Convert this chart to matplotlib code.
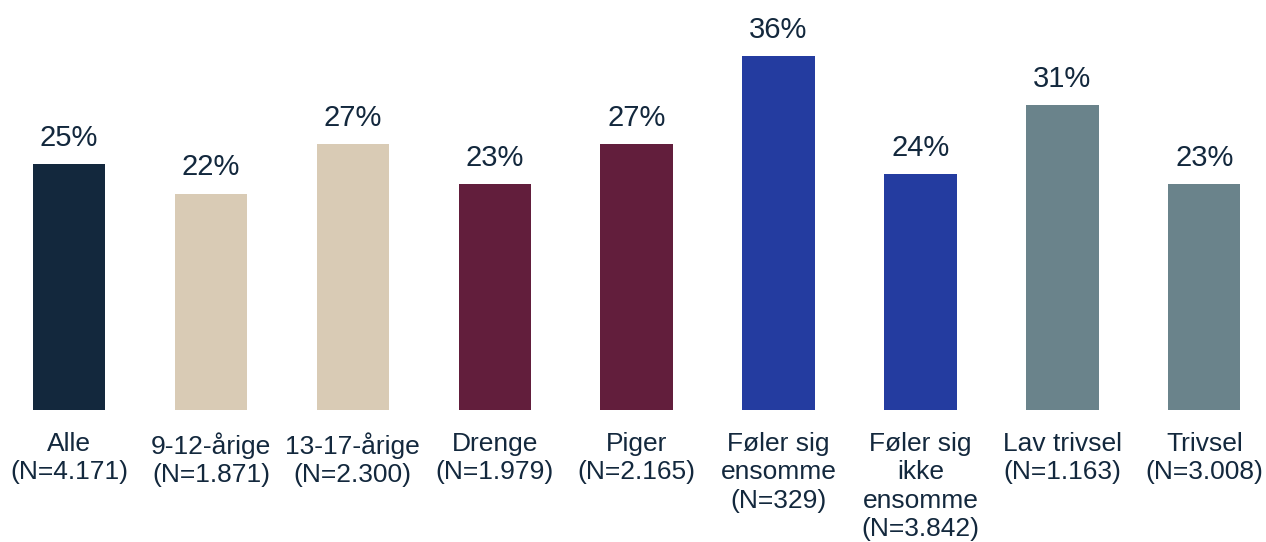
import numpy as np
import matplotlib.pyplot as plt

plt.rcParams['font.family'] = ['Liberation Sans', 'DejaVu Sans']

# Data

categories = ['Alle\n(N=4.171)', '9-12-årige\n(N=1.871)', '13-17-årige\n(N=2.300)',
              'Drenge\n(N=1.979)', 'Piger\n(N=2.165)', 'Føler sig\nensomme\n(N=329)',
              'Føler sig\nikke\nensomme\n(N=3.842)', 'Lav trivsel\n(N=1.163)',
              'Trivsel\n(N=3.008)']
values = [25, 22, 27, 23, 27, 36, 24, 31, 23]
colors = ['#13283d', '#d9cbb5', '#d9cbb5', '#621e3c', '#621e3c',
          '#243ca0', '#243ca0', '#6a838b', '#6a838b']
text_color = '#13283d'

fig = plt.figure(figsize=(12.66, 5.42), dpi=100)
ax = fig.add_axes([0, 132 / 542, 1, 410 / 542])

x = np.arange(len(values))
ax.bar(x, values, width=0.51, color=colors)

for xi, v in zip(x, values):
    ax.annotate(f'{v}%', (xi, v), xytext=(0, 13), textcoords='offset points',
                ha='center', va='baseline', fontsize=21, color=text_color)

ax.set_xlim(-0.486, 8.435)
ax.set_ylim(0, 41.67)
ax.set_xticks(x)
ax.set_xticklabels(categories, fontsize=19, color=text_color, linespacing=1.22,
                   va='top')
ax.tick_params(axis='x', length=0, pad=16)
ax.set_yticks([])
for s in ax.spines.values():
    s.set_visible(False)

fig.savefig('out.png', dpi=100)
